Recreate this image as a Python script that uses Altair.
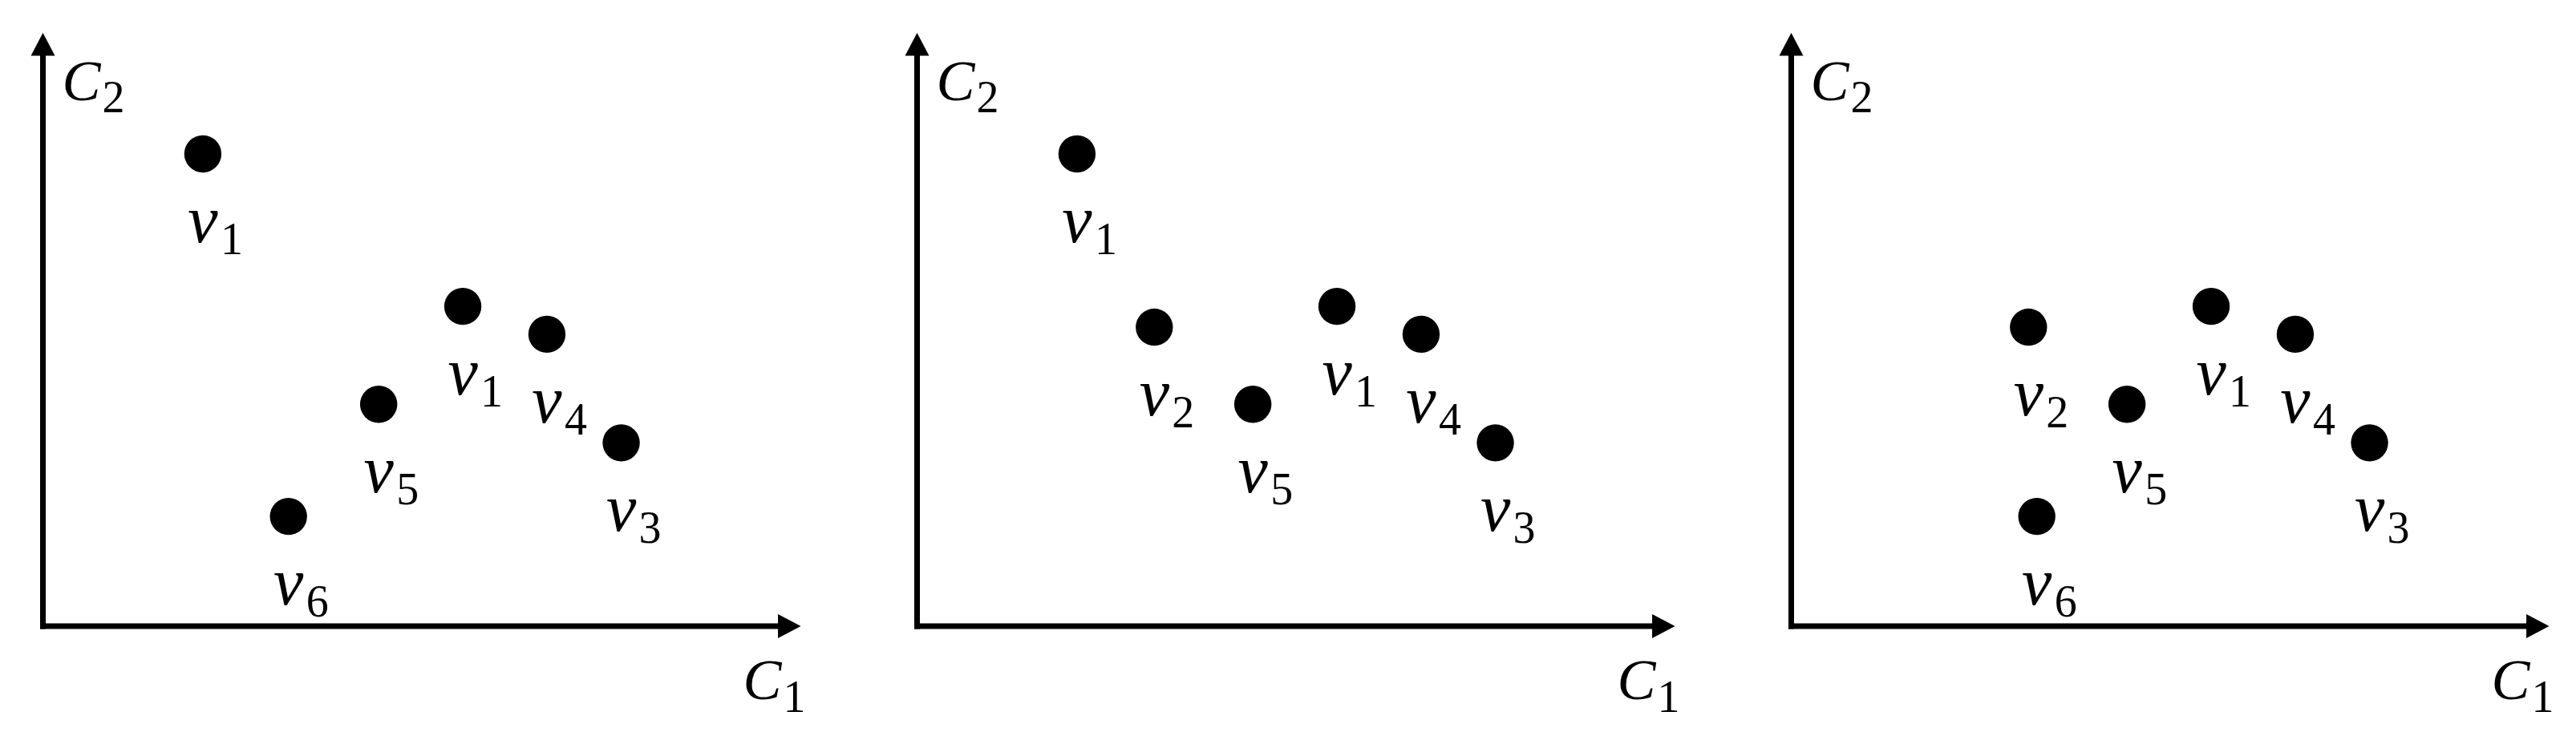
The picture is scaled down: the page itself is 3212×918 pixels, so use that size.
import altair as alt
import pandas as pd

# ---- data (C1, C2 coordinates of the points, and their subscripts) ----
PANEL_IDS = [1, 2, 3]

P1_C1 = [2.11, 5.54, 6.65, 4.43, 7.63, 3.24]
P1_C2 = [7.96, 5.39, 4.92, 3.74, 3.09, 1.85]
P1_SUB = ["1", "1", "4", "5", "3", "6"]

P2_C1 = [2.11, 3.13, 4.43, 5.54, 6.65, 7.63]
P2_C2 = [7.96, 5.04, 3.74, 5.39, 4.92, 3.09]
P2_SUB = ["1", "2", "5", "1", "4", "3"]

P3_C1 = [3.13, 4.43, 5.54, 6.65, 7.63, 3.24]
P3_C2 = [5.04, 3.74, 5.39, 4.92, 3.09, 1.85]
P3_SUB = ["2", "5", "1", "4", "3", "6"]

AXIS_LEN = [10, 10]        # C1 and C2 axis lengths (arrow tips)
SHAFT_LEN = [9.8, 9.8]     # shafts end under the arrowheads
AXIS_NAMES = ["C", "C"]
AXIS_SUBS = ["1", "2"]

rows = []
for pid, c1s, c2s, subs in zip(PANEL_IDS, [P1_C1, P2_C1, P3_C1],
                               [P1_C2, P2_C2, P3_C2], [P1_SUB, P2_SUB, P3_SUB]):
    for a, b, s in zip(c1s, c2s, subs):
        rows.append({"panel": pid, "C1": a, "C2": b, "letter": "v", "sub": s})
points = pd.DataFrame(rows)

shafts = pd.DataFrame({"x": [0, 0], "y": [0, 0],
                       "x2": [0, SHAFT_LEN[0]], "y2": [SHAFT_LEN[1], 0]})
tip_y = pd.DataFrame({"x": [0], "y": [AXIS_LEN[1]], "t": [AXIS_NAMES[1]], "s": [AXIS_SUBS[1]]})
tip_x = pd.DataFrame({"x": [AXIS_LEN[0]], "y": [0], "t": [AXIS_NAMES[0]], "s": [AXIS_SUBS[0]]})

xs = alt.Scale(domain=[-0.4815, 10.1], nice=False, zero=False)
ys = alt.Scale(domain=[-1.581, 10.446], nice=False, zero=False)

FONT = "Liberation Serif"
BLACK = "#000000"


def panel(pid):
    X = alt.X("x:Q", scale=xs, axis=None)
    Y = alt.Y("y:Q", scale=ys, axis=None)
    rule = alt.Chart(shafts).mark_rule(strokeWidth=7, strokeCap="square", color=BLACK).encode(
        x=X, y=Y, x2="x2:Q", y2="y2:Q")
    arrow_up = alt.Chart(tip_y).mark_point(
        shape="M0,0L1,1.9L-1,1.9Z", size=900, filled=True, opacity=1, color=BLACK, strokeWidth=0
    ).encode(x=X, y=Y)
    arrow_right = alt.Chart(tip_x).mark_point(
        shape="M0,0L-1.9,-1L-1.9,1Z", size=900, filled=True, opacity=1, color=BLACK, strokeWidth=0
    ).encode(x=X, y=Y)
    c2_main = alt.Chart(tip_y).mark_text(
        font=FONT, fontStyle="italic", fontSize=72, align="left", baseline="alphabetic",
        dx=24, dy=84, color=BLACK).encode(x=X, y=Y, text="t:N")
    c2_sub = alt.Chart(tip_y).mark_text(
        font=FONT, fontSize=56, align="left", baseline="alphabetic",
        dx=74, dy=99, color=BLACK).encode(x=X, y=Y, text="s:N")
    c1_main = alt.Chart(tip_x).mark_text(
        font=FONT, fontStyle="italic", fontSize=72, align="left", baseline="alphabetic",
        dx=-72, dy=91, color=BLACK).encode(x=X, y=Y, text="t:N")
    c1_sub = alt.Chart(tip_x).mark_text(
        font=FONT, fontSize=56, align="left", baseline="alphabetic",
        dx=-22, dy=107, color=BLACK).encode(x=X, y=Y, text="s:N")

    base = alt.Chart(points).transform_filter(alt.datum.panel == pid)
    PX = alt.X("C1:Q", scale=xs, axis=None)
    PY = alt.Y("C2:Q", scale=ys, axis=None)
    dots = base.mark_circle(size=2150, opacity=1, color=BLACK).encode(x=PX, y=PY)
    vlab = base.mark_text(
        font=FONT, fontStyle="italic", fontSize=84, align="center", baseline="alphabetic",
        dy=110, color=BLACK).encode(x=PX, y=PY, text="letter:N")
    slab = base.mark_text(
        font=FONT, fontSize=56, align="left", baseline="alphabetic",
        dx=22, dy=125, color=BLACK).encode(x=PX, y=PY, text="sub:N")
    return alt.layer(rule, arrow_up, arrow_right, c2_main, c2_sub, c1_main, c1_sub,
                     dots, vlab, slab).properties(width=1000, height=890)


chart = alt.hconcat(*[panel(p) for p in PANEL_IDS], spacing=90).properties(
    padding=0, background="white"
).configure_view(strokeWidth=0)

chart.save("out.html", embed_options={"renderer": "svg", "actions": False})
